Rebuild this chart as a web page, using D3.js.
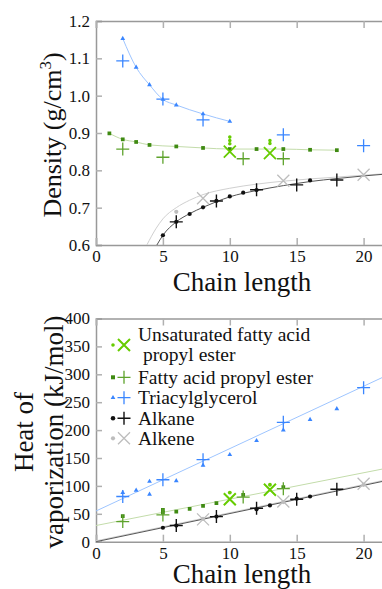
<!DOCTYPE html>
<html>
<head>
<meta charset="utf-8">
<script src="https://cdn.jsdelivr.net/npm/d3@7"></script>
<style>
  body { margin: 0; background: #fff; }
  svg { display: block; font-family: "Liberation Serif", "DejaVu Serif", serif; }
</style>
</head>
<body>
<svg id="chart" width="382" height="589"></svg>
<script>
// ---- data ----
var xTicks = [0, 5, 10, 15, 20];
var densityTicks = [0.6, 0.7, 0.8, 0.9, 1.0, 1.1, 1.2];
var heatTicks = [0, 50, 100, 150, 200, 250, 300, 350, 400];

// density panel
var tagModelX = [2, 3, 4, 5, 6, 8, 10];
var tagModelY = [1.153, 1.076, 1.029, 0.99, 0.975, 0.951, 0.931];
var tagExpX = [2, 5, 8, 14, 20];
var tagExpY = [1.093, 0.991, 0.935, 0.895, 0.866];
var fapeModelX = [1, 2, 3, 4, 6, 8, 10, 12, 14, 16, 18];
var fapeModelY = [0.899, 0.883, 0.876, 0.868, 0.864, 0.860, 0.857, 0.857, 0.857, 0.855, 0.854];
var fapeExpX = [2, 5, 11, 14];
var fapeExpY = [0.857, 0.835, 0.831, 0.831];
var ufapeModelX = [10, 10, 10, 13, 13];
var ufapeModelY = [0.889, 0.880, 0.871, 0.880, 0.872];
var ufapeExpX = [10, 13];
var ufapeExpY = [0.850, 0.846];
var alkaneModelX = [5, 6, 7, 8, 9, 10, 11, 12, 16];
var alkaneModelY = [0.626, 0.662, 0.683, 0.701, 0.718, 0.730, 0.740, 0.747, 0.773];
var alkaneExpX = [6, 9, 12, 15, 18];
var alkaneExpY = [0.662, 0.718, 0.748, 0.761, 0.774];
var alkeneModelX = [6];
var alkeneModelY = [0.689];
var alkeneExpX = [8, 14, 20];
var alkeneExpY = [0.725, 0.772, 0.788];
// fitted curves (traced)
var alkaneFitX = [4.55, 5, 6, 7, 8, 9, 10, 12, 14, 16, 18, 20, 22];
var alkaneFitY = [0.6, 0.626, 0.662, 0.684, 0.701, 0.716, 0.729, 0.746, 0.759, 0.770, 0.778, 0.785, 0.791];
var alkeneFitX = [3.8, 4.5, 5, 6, 7, 8, 10, 12, 14, 16, 18, 20, 22];
var alkeneFitY = [0.6, 0.645, 0.67, 0.70, 0.72, 0.735, 0.752, 0.763, 0.771, 0.777, 0.782, 0.787, 0.792];

// heat of vaporization panel
var tagModelHX = [2, 3, 4, 4, 6, 8, 10, 12, 14, 16, 18];
var tagModelHY = [88, 92, 108, 85, 109, 137, 156, 181, 200, 219, 238];
var tagExpHX = [2, 5, 8, 14, 20];
var tagExpHY = [81, 111, 147, 214, 276];
var fapeModelHX = [2, 5, 5, 6, 7, 8, 9, 11, 14];
var fapeModelHY = [46, 57, 52, 54, 59, 64, 69, 84, 98];
var fapeExpHX = [2, 5, 11, 14];
var fapeExpHY = [36, 48, 80, 95];
var ufapeModelHX = [10, 13];
var ufapeModelHY = [88, 102];
var ufapeExpHX = [10, 13];
var ufapeExpHY = [76, 93];
var alkaneModelHX = [5, 6, 9, 12, 13, 15, 16];
var alkaneModelHY = [25, 29, 45, 58, 65, 77, 81];
var alkaneExpHX = [6, 9, 12, 15, 18];
var alkaneExpHY = [29, 45, 60, 76, 94];
var alkeneModelHX = [8, 14, 20];
var alkeneModelHY = [41, 71, 102];
var alkeneExpHX = [8, 14, 20];
var alkeneExpHY = [40, 72, 104];
// fitted lines (traced end points)
var lineX = [0, 22];
var tagLineHY = [55, 301];
var fapeLineHY = [29, 133];
var alkaneLineHY = [0, 111];
var alkeneLineHY = [1.5, 112.5];

var legendNames = [["Unsaturated fatty acid", " propyl ester"], ["Fatty acid propyl ester"], ["Triacylglycerol"], ["Alkane"], ["Alkene"]];

// ---- colours ----
var cBlue = "#3a86ff", cBlueLine = "#9ec5ff";
var cGreen = "#3f8a12", cGreenPlus = "#5ea32c", cGreenLine = "#c3dcaa";
var cLime = "#66cc00";
var cBlack = "#111", cBlackLine = "#555";
var cGray = "#bdbdbd", cGrayLine = "#d0d0d0";

var svg = d3.select("#chart");
var zip = function(xs, ys){ return xs.map(function(x, i){ return [x, ys[i]]; }); };

// marker painters
function plus(g, pts, x, y, col, s, w){
  g.selectAll(null).data(pts).enter().append("path")
    .attr("d", function(d){ var cx = x(d[0]), cy = y(d[1]);
      return "M" + (cx - s) + "," + cy + "H" + (cx + s) + "M" + cx + "," + (cy - s) + "V" + (cy + s); })
    .attr("stroke", col).attr("stroke-width", w || 1.3).attr("fill", "none");
}
function cross(g, pts, x, y, col, s, w){
  g.selectAll(null).data(pts).enter().append("path")
    .attr("d", function(d){ var cx = x(d[0]), cy = y(d[1]);
      return "M" + (cx - s) + "," + (cy - s) + "L" + (cx + s) + "," + (cy + s) + "M" + (cx - s) + "," + (cy + s) + "L" + (cx + s) + "," + (cy - s); })
    .attr("stroke", col).attr("stroke-width", w || 1.3).attr("fill", "none");
}
function sym(g, pts, x, y, col, type, size){
  g.selectAll(null).data(pts).enter().append("path")
    .attr("d", d3.symbol().type(type).size(size))
    .attr("transform", function(d){ return "translate(" + x(d[0]) + "," + y(d[1]) + ")"; })
    .attr("fill", col);
}
function curve(g, pts, x, y, col, c){
  g.append("path").datum(pts)
    .attr("d", d3.line().x(function(d){ return x(d[0]); }).y(function(d){ return y(d[1]); }).curve(c || d3.curveLinear))
    .attr("fill", "none").attr("stroke", col).attr("stroke-width", 1);
}

function frame(y, yTickVals, fmt, x, id){
  var top = y.range()[1], bottom = y.range()[0];
  var ax = svg.append("g").attr("class", "axes");
  ax.append("g").attr("transform", "translate(" + x(0) + ",0)")
    .call(d3.axisLeft(y).tickValues(yTickVals).tickFormat(fmt).tickSize(-6).tickPadding(6));
  ax.append("g").attr("transform", "translate(0," + bottom + ")")
    .call(d3.axisBottom(x).tickValues(xTicks).tickSize(-7).tickPadding(5));
  ax.append("g").attr("transform", "translate(0," + top + ")")
    .call(d3.axisTop(x).tickValues(xTicks).tickSize(-7).tickFormat(""));
  ax.selectAll(".tick line").attr("stroke", "#b0b0b0").attr("stroke-width", 1.5);
  ax.selectAll(".domain").attr("stroke", "#999").attr("stroke-width", 1.5);
  ax.selectAll("text").attr("font-size", 17).attr("fill", "#111").attr("font-family", "Liberation Serif, serif");
  svg.append("clipPath").attr("id", id).append("rect")
    .attr("x", x(0)).attr("y", top).attr("width", 382 - x(0)).attr("height", bottom - top);
  return svg.append("g").attr("clip-path", "url(#" + id + ")");
}

// ---- density panel ----
var x1 = d3.scaleLinear().domain([0, 22]).range([96, 96 + 22 * 13.38]);
var y1 = d3.scaleLinear().domain([0.6, 1.2]).range([245, 21]);
var p1 = frame(y1, densityTicks, d3.format(".1f"), x1, "clipTop");

curve(p1, zip(alkeneFitX, alkeneFitY), x1, y1, cGrayLine, d3.curveMonotoneX);
curve(p1, zip(alkaneFitX, alkaneFitY), x1, y1, cBlackLine, d3.curveMonotoneX);
curve(p1, zip(fapeModelX, fapeModelY), x1, y1, cGreenLine, d3.curveMonotoneX);
curve(p1, zip(tagModelX, tagModelY), x1, y1, cBlueLine, d3.curveMonotoneX);

sym(p1, zip(alkeneModelX, alkeneModelY), x1, y1, cGray, d3.symbolCircle, 14);
cross(p1, zip(alkeneExpX, alkeneExpY), x1, y1, cGray, 6, 1.3);
sym(p1, zip(alkaneModelX, alkaneModelY), x1, y1, cBlack, d3.symbolCircle, 14);
plus(p1, zip(alkaneExpX, alkaneExpY), x1, y1, cBlack, 6.5, 1.4);
sym(p1, zip(fapeModelX, fapeModelY), x1, y1, cGreen, d3.symbolSquare, 14);
plus(p1, zip(fapeExpX, fapeExpY), x1, y1, cGreenPlus, 6.5, 1.3);
sym(p1, zip(tagModelX, tagModelY), x1, y1, cBlue, d3.symbolTriangle, 10);
plus(p1, zip(tagExpX, tagExpY), x1, y1, cBlue, 6.5, 1.3);
sym(p1, zip(ufapeModelX, ufapeModelY), x1, y1, cLime, d3.symbolCircle, 10);
cross(p1, zip(ufapeExpX, ufapeExpY), x1, y1, cLime, 6, 1.8);

// ---- heat of vaporization panel ----
var x2 = x1.copy();
var y2 = d3.scaleLinear().domain([0, 400]).range([541.7, 318.5]);
var p2 = frame(y2, heatTicks, d3.format("d"), x2, "clipBot");

curve(p2, zip(lineX, alkeneLineHY), x2, y2, cGrayLine);
curve(p2, zip(lineX, alkaneLineHY), x2, y2, cBlackLine);
curve(p2, zip(lineX, fapeLineHY), x2, y2, cGreenLine);
curve(p2, zip(lineX, tagLineHY), x2, y2, cBlueLine);

sym(p2, zip(alkeneModelHX, alkeneModelHY), x2, y2, cGray, d3.symbolCircle, 14);
cross(p2, zip(alkeneExpHX, alkeneExpHY), x2, y2, cGray, 6, 1.3);
sym(p2, zip(alkaneModelHX, alkaneModelHY), x2, y2, cBlack, d3.symbolCircle, 14);
plus(p2, zip(alkaneExpHX, alkaneExpHY), x2, y2, cBlack, 6.5, 1.4);
sym(p2, zip(fapeModelHX, fapeModelHY), x2, y2, cGreen, d3.symbolSquare, 14);
plus(p2, zip(fapeExpHX, fapeExpHY), x2, y2, cGreenPlus, 6.5, 1.3);
sym(p2, zip(tagModelHX, tagModelHY), x2, y2, cBlue, d3.symbolTriangle, 10);
plus(p2, zip(tagExpHX, tagExpHY), x2, y2, cBlue, 6.5, 1.3);
sym(p2, zip(ufapeModelHX, ufapeModelHY), x2, y2, cLime, d3.symbolCircle, 12);
cross(p2, zip(ufapeExpHX, ufapeExpHY), x2, y2, cLime, 6, 2);

// legend
var legRows = [345, 377.3, 397.7, 418.3, 438.3];
var lg = svg.append("g");
var legSmall = [[d3.symbolCircle, cLime, 10], [d3.symbolSquare, cGreen, 16], [d3.symbolTriangle, cBlue, 10], [d3.symbolCircle, cBlack, 16], [d3.symbolCircle, cGray, 14]];
var legBig = [["x", cLime, 2], ["+", cGreenPlus, 1.3], ["+", cBlue, 1.3], ["+", cBlack, 1.4], ["x", cGray, 1.3]];
var ident = function(v){ return v; };
legRows.forEach(function(ry, i){
  sym(lg, [[113, ry]], ident, ident, legSmall[i][1], legSmall[i][0], legSmall[i][2]);
  if (legBig[i][0] === "x") cross(lg, [[124, ry]], ident, ident, legBig[i][1], 6, legBig[i][2]);
  else plus(lg, [[124, ry]], ident, ident, legBig[i][1], 6.5, legBig[i][2]);
  var t = lg.append("text").attr("x", 138).attr("font-size", 19.5).attr("fill", "#111");
  var names = legendNames[i];
  var y0 = names.length > 1 ? ry - 10 : ry;
  names.forEach(function(n, k){
    t.append("tspan").attr("x", 138).attr("y", y0 + k * 20).attr("dy", "0.33em")
      .attr("xml:space", "preserve").text(n);
  });
});

// axis titles
svg.append("text").attr("x", 242).attr("y", 291).attr("text-anchor", "middle")
  .attr("font-size", 27).attr("fill", "#111").text("Chain length");
svg.append("text").attr("x", 242).attr("y", 583).attr("text-anchor", "middle")
  .attr("font-size", 27).attr("fill", "#111").text("Chain length");

var yl1 = svg.append("text").attr("transform", "translate(61,135) rotate(-90)")
  .attr("text-anchor", "middle").attr("font-size", 26).attr("fill", "#111");
yl1.append("tspan").text("Density (g/cm");
yl1.append("tspan").attr("font-size", 17).attr("dy", "-0.6em").text("3");
yl1.append("tspan").attr("dy", "0.4em").text(")");

var yl2 = svg.append("text").attr("transform", "translate(0,432) rotate(-90)")
  .attr("text-anchor", "middle").attr("font-size", 27).attr("fill", "#111");
yl2.append("tspan").attr("x", 0).attr("y", 33).text("Heat of");
yl2.append("tspan").attr("x", 0).attr("y", 63).text("vaporization (kJ/mol)");
</script>
</body>
</html>
